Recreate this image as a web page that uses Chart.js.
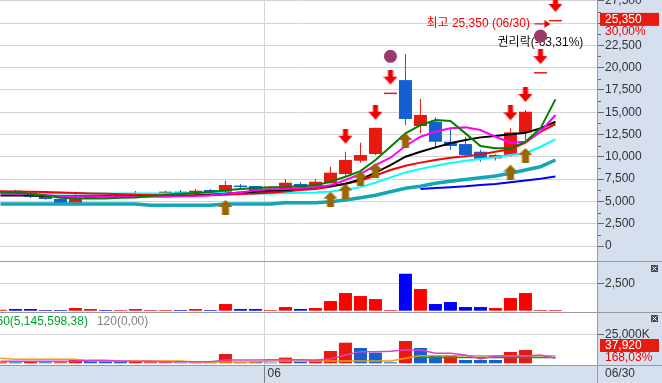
<!DOCTYPE html>
<html><head><meta charset="utf-8">
<script src="https://cdn.jsdelivr.net/npm/chart.js"></script>
<style>
html,body{margin:0;padding:0;background:#fff;}
#wrap{position:relative;width:662px;height:383px;overflow:hidden;background:#fff;}
.abs{position:absolute;}
#rp{left:598px;top:0;width:64px;height:383px;background:#d5dfee;}
#strip{left:0;top:365px;width:662px;height:18px;background:#d5dfee;}
.hl{left:0;width:662px;height:1px;background:#9a9a9a;}
#vl{left:597px;top:0;width:1px;height:383px;background:#9a9a9a;}
canvas{position:absolute;left:0;}
</style></head><body>
<div id="wrap">
 <div id="rp" class="abs"></div>
 <div id="strip" class="abs"></div>
 <canvas id="c1" width="662" height="261" style="top:0;width:662px;height:261px"></canvas>
 <canvas id="c2" width="662" height="50" style="top:262px;width:662px;height:50px"></canvas>
 <canvas id="c3" width="662" height="70" style="top:313px;width:662px;height:70px"></canvas>
 <div class="abs hl" style="top:261px"></div>
 <div class="abs hl" style="top:312px"></div>
 <div class="abs hl" style="top:365px"></div>
 <div id="vl" class="abs"></div>
</div>
<script>
// ================= DATA =================
const monthLabels = ['06'];
const monthStartIdx = [18];
const lastDate = '06/30';

const open  = [5980,6200,6020,5600,5270,4850,5350,5650,5600,5530,5640,5830,6090,5830,6280,6090,6730,6730,6470,6200,6950,6730,7030,8070,9560,10310,17200,18600,13450,13930,11690,11430,10570,9830,10200,12740,19500,25350];
const close = [6200,5830,5530,5270,4740,5350,5600,5520,5830,5830,5830,6090,5720,6200,5975,6840,6610,6200,6580,7100,6610,7210,8220,9640,10200,13250,17200,14240,14690,11690,11210,10200,9790,10200,12740,15050,19500,25350];
const high  = [6250,6310,6050,5720,5300,5900,5750,5720,5850,6160,5900,6200,6280,6390,6390,7320,6950,6730,6600,7510,7170,7510,8890,10570,11580,13260,17200,21520,16480,14430,13300,12250,10800,10300,13190,15250,19500,25350];
const low   = [5950,5750,5380,5190,4700,4740,5300,5350,5550,5500,5600,5640,5700,5720,5950,6050,6500,6150,6450,6200,6550,6700,7000,7900,9340,10200,17200,13560,12630,11130,10760,9940,9450,9600,10010,11880,19500,25350];

const maGreen   = [6050,6000,5850,5650,5400,5330,5330,5330,5400,5450,5600,5750,5850,5950,6050,6250,6400,6500,6580,6620,6730,6800,7210,7770,8400,9640,11130,12630,13560,14120,14010,12630,11210,10950,10950,11690,13190,16440];
const maMagenta = [5900,5850,5800,5700,5600,5550,5550,5550,5550,5550,5550,5550,5580,5620,5700,5850,6000,6250,6350,6400,6500,6600,6800,7400,8070,9080,9900,11210,12250,12810,13190,13300,13000,12250,11580,11690,12810,14690];
const maBlack   = [5650,5650,5650,5620,5580,5580,5580,5580,5580,5580,5580,5580,5600,5650,5750,5850,6000,6090,6200,6280,6470,6580,6730,6950,7480,8220,9080,10010,10570,11060,11510,11880,12180,12330,12520,12700,13190,13930];
const maRed     = [6100,6100,6080,6050,6000,5950,5900,5850,5800,5750,5700,5660,5660,5680,5700,5750,5820,5900,5980,6100,6280,6400,6650,7000,7320,7900,8520,9000,9350,9650,9900,10050,10250,10570,10840,11580,12810,13680];
const maCyan    = [5900,5900,5900,5900,5900,5900,5900,5900,5900,5900,5900,5900,5920,5950,5970,5950,5920,5900,5900,5920,5970,6000,6100,6300,6600,7100,7700,8250,8650,9000,9300,9550,9750,9950,10200,10400,11130,11960];
const maTeal    = [4710,4710,4710,4710,4710,4710,4710,4710,4710,4710,4560,4560,4560,4560,4560,4710,4710,4710,4710,4850,4850,4850,4950,5150,5400,5700,6090,6470,6700,7030,7250,7450,7650,7850,8150,8520,8890,9640];
const maBlue    = [null,null,null,null,null,null,null,null,null,null,null,null,null,null,null,null,null,null,null,null,null,null,null,null,null,null,null,null,6400,6500,6600,6700,6850,6950,7150,7350,7550,7800];

const downIdx = [23,25,26,34,35,36,37];
const upIdx   = [15,22,23,24,25,27,34,35];
const dotIdx  = [26,36];
const dotVal  = [21270,23540];

const vol2 = [90,156,156,62,62,250,156,62,62,156,62,62,62,156,62,624,156,156,62,343,156,250,905,1654,1373,1092,62,3463,2028,624,811,343,343,250,1186,1654,62,62];

const vol3    = [880,880,2060,880,880,3530,2060,2060,1470,1470,880,880,590,590,590,8230,880,1470,590,5000,1470,2940,10900,18200,13500,9400,880,19700,13500,7350,6470,2940,2940,2940,10000,11760,30,38];
const vol3Up  = [1,0,1,0,1,1,0,0,0,1,1,1,0,1,0,1,0,0,0,1,0,1,1,1,0,0,0,1,0,0,1,0,0,0,1,1,0,1];
const vol3Pink   = [1760,1760,1760,1760,1760,2000,2650,2650,2060,1760,1760,1470,1470,1470,1470,2940,2940,2940,3230,3230,3230,2940,3800,7350,10300,10300,10600,11760,11760,8800,8800,7350,3820,6470,6470,6470,7350,4400];
const vol3Orange = [4400,3530,3530,3530,3530,3530,2060,2060,2060,2060,2060,2060,2060,1200,1200,1200,1200,1200,2060,2060,2060,2060,2060,2060,2060,2060,2060,4400,6760,6760,6760,6760,6760,6760,6760,6760,6760,6760];
const vol3Green  = [null,null,null,null,null,null,null,null,null,null,null,null,null,null,null,null,null,null,null,null,null,null,null,null,null,null,null,null,5100,5100,5100,5100,5100,5100,5100,5120,5130,5146];

const mainTicks = [0,2500,5000,7500,10000,12500,15000,17500,20000,22500,25000,27500];
const volTicks  = [2500];
const valTicks  = [25000];

const highText   = '최고';
const exRightText = '권리락(-63,31%)';
const lastChange = '30,00%';
const lastVolText = '37,920';
const volRatioText = '168,03%';
const ma60Label  = '60(5,145,598,38)';
const ma120Label = '120(0,00)';

// ================= STYLE =================
const FONT = "'Liberation Sans','Noto Sans CJK KR',sans-serif";
Chart.defaults.font.family = FONT;
Chart.defaults.font.size = 12;
Chart.defaults.color = '#333';
const PANEL_BG = '#d5dfee';
const C_UP = '#e8190f', C_DN = '#1560d0';
const X_MIN = -0.03, X_MAX = 39.77;
const BODY_W = 13;

const fmt = v => String(Math.round(v)).replace(/\B(?=(\d{3})+(?!\d))/g, ',');

function yOpts(min, max, ticks, cb){
  return {
    position:'right', min, max,
    afterFit(s){ s.width = 65; s.paddingTop = 0; s.paddingBottom = 0; },
    afterBuildTicks(s){ s.ticks = ticks.map(v => ({value:v})); },
    ticks:{autoSkip:false, padding:1, color:'#333', font:{size:12, family:FONT}, callback:cb},
    grid:{color:'#d4d4d4', lineWidth:1, tickLength:7, tickColor:'#666', drawTicks:true},
    border:{display:false}
  };
}
const xOpts = () => ({type:'linear', min:X_MIN, max:X_MAX, display:false, offset:false});

function lineDs(arr, color, w, order){
  return {type:'line', data: arr.map((v,i) => v == null ? null : {x:i, y:v}).filter(Boolean),
    borderColor:color, borderWidth:w, pointRadius:0, fill:false, tension:0, order};
}

function makeDownArrow(color, gap){
  const w = 14, ah = 15, h = 2*(gap+ah);
  const c = document.createElement('canvas'); c.width = w; c.height = h;
  const g = c.getContext('2d'); g.fillStyle = color;
  g.fillRect(4.5, 0, 5, 7);
  g.beginPath(); g.moveTo(0,7); g.lineTo(14,7); g.lineTo(7,15); g.closePath(); g.fill();
  return c;
}
function makeUpArrow(color, gap){
  const w = 14, ah = 15, h = 2*(gap+ah);
  const c = document.createElement('canvas'); c.width = w; c.height = h;
  const g = c.getContext('2d'); g.fillStyle = color;
  const top = h/2 + gap;
  g.beginPath(); g.moveTo(7, top); g.lineTo(14, top+7); g.lineTo(0, top+7); g.closePath(); g.fill();
  g.fillRect(3.5, top+7, 7, 8);
  return c;
}
const downImg = makeDownArrow('#f00000', 8);
const upImg = makeUpArrow('#9a6600', 8);

function monthLine(ch){
  const {ctx, chartArea:a, scales:{x}} = ch;
  ctx.save(); ctx.strokeStyle = '#d4d4d4'; ctx.lineWidth = 1;
  monthStartIdx.forEach(m => {
    const px = Math.round(x.getPixelForValue(m) - BODY_W/2) + 0.5;
    ctx.beginPath(); ctx.moveTo(px, a.top); ctx.lineTo(px, a.bottom); ctx.stroke();
  });
  ctx.restore();
}
function closeBtn(ctx, x0, y0){
  ctx.save(); ctx.fillStyle = '#4d4d4d'; ctx.fillRect(x0, y0, 7, 7);
  ctx.strokeStyle = '#fff'; ctx.lineWidth = 1;
  ctx.beginPath(); ctx.moveTo(x0+1.5, y0+1.5); ctx.lineTo(x0+5.5, y0+5.5);
  ctx.moveTo(x0+5.5, y0+1.5); ctx.lineTo(x0+1.5, y0+5.5); ctx.stroke(); ctx.restore();
}

const candleCol = i => close[i] >= open[i] ? C_UP : C_DN;
const maxIdx = high.indexOf(Math.max(...high));
const lastIdx = close.length - 1;
const baseOpts = (yAxis, pad) => ({
  responsive:false, maintainAspectRatio:false, animation:false, devicePixelRatio:1, events:[],
  plugins:{legend:{display:false}, tooltip:{enabled:false}},
  layout:{autoPadding:false, padding:pad || 0},
  scales:{x:xOpts(), y:yAxis}
});

// ================= CHART 1 =================
const deco1 = {
  id:'deco1',
  beforeDatasetsDraw(ch){
    monthLine(ch);
    const {ctx, scales:{x,y}} = ch;
    ctx.save();
    ctx.font = '12px ' + FONT; ctx.fillStyle = '#111'; ctx.textAlign = 'center'; ctx.textBaseline = 'middle';
    ctx.fillText(exRightText, x.getPixelForValue(dotIdx[1]), y.getPixelForValue(dotVal[1]) + 7);
    ctx.restore();
  },
  afterDatasetsDraw(ch){
    const {ctx, scales:{x,y}} = ch;
    const px = x.getPixelForValue(maxIdx), py = y.getPixelForValue(high[maxIdx]) + 4;
    ctx.save();
    ctx.font = '12px ' + FONT; ctx.fillStyle = '#f00000'; ctx.textAlign = 'right'; ctx.textBaseline = 'middle';
    ctx.fillText(highText + ' ' + fmt(high[maxIdx]) + ' (' + lastDate + ')', px - 25.5, py);
    ctx.strokeStyle = '#f00000'; ctx.lineWidth = 1.2;
    ctx.beginPath(); ctx.moveTo(px - 21, py); ctx.lineTo(px - 9, py); ctx.stroke();
    ctx.beginPath(); ctx.moveTo(px - 11, py - 4); ctx.lineTo(px - 5, py); ctx.lineTo(px - 11, py + 4); ctx.closePath(); ctx.fill();
    ctx.restore();
  },
  afterDraw(ch){
    const {ctx, chartArea:a, scales:{y}} = ch;
    ctx.save();
    ctx.strokeStyle = '#666'; ctx.lineWidth = 1;
    for (let i = 0; i < mainTicks.length - 1; i++){
      const v = (mainTicks[i] + mainTicks[i+1]) / 2;
      const py = Math.round(y.getPixelForValue(v)) + 0.5;
      ctx.beginPath(); ctx.moveTo(a.right, py); ctx.lineTo(a.right + 4, py); ctx.stroke();
    }
    const py = y.getPixelForValue(close[lastIdx]);
    ctx.fillStyle = PANEL_BG; ctx.fillRect(605, py - 7, 57, 24);
    ctx.fillStyle = '#e61c12'; ctx.fillRect(600, py - 7, 59, 13);
    ctx.font = '12px ' + FONT; ctx.textAlign = 'left'; ctx.textBaseline = 'middle';
    ctx.fillStyle = '#fff'; ctx.fillText(fmt(close[lastIdx]), 605, py - 0.5);
    ctx.fillStyle = '#f00000'; ctx.fillText(lastChange, 605, py + 11.5);
    ctx.restore();
  }
};

new Chart(document.getElementById('c1'), {
  type:'bar',
  data:{datasets:[
    {type:'line', data: dotIdx.map((d,k) => ({x:d, y:dotVal[k]})), showLine:false, pointRadius:6.5, pointStyle:'circle',
      pointBackgroundColor:'#9a3a6a', pointBorderWidth:0, pointBorderColor:'#9a3a6a', order:0},
    {type:'line', data: downIdx.map(d => ({x:d, y:high[d]})), showLine:false, pointRadius:7, pointStyle:downImg, order:1},
    {type:'line', data: upIdx.map(d => ({x:d, y:low[d]})), showLine:false, pointRadius:7, pointStyle:upImg, order:2},
    lineDs(maGreen, '#008000', 2, 3),
    lineDs(maMagenta, '#ff00ff', 2, 4),
    lineDs(maBlack, '#000000', 2, 5),
    lineDs(maRed, '#ff0000', 2, 6),
    lineDs(maCyan, '#00ffff', 2, 7),
    lineDs(maBlue, '#0000ff', 2, 8),
    lineDs(maTeal, '#12a6b6', 3.5, 9),
    {type:'bar', data: open.map((o,i) => ({x:i, y:[o, close[i]]})), backgroundColor: open.map((o,i) => candleCol(i)),
      barThickness:BODY_W, grouped:false, minBarLength:1.5, borderWidth:0, inflateAmount:0, order:10},
    {type:'bar', data: low.map((l,i) => ({x:i, y:[l, high[i]]})), backgroundColor: low.map((l,i) => candleCol(i)),
      barThickness:1, grouped:false, borderWidth:0, inflateAmount:0, order:11}
  ]},
  options: baseOpts(yOpts(-1680, 27580, mainTicks, v => fmt(v))),
  plugins:[deco1]
});

// ================= CHART 2 =================
const deco2 = {
  id:'deco2',
  beforeDatasetsDraw(ch){ monthLine(ch); },
  afterDraw(ch){ closeBtn(ch.ctx, 651, 3); }
};
new Chart(document.getElementById('c2'), {
  type:'bar',
  data:{datasets:[
    {data: vol2.map((v,i) => ({x:i, y:v})), backgroundColor: vol2.map((v,i) => close[i] >= open[i] ? '#ff0000' : '#0000ff'),
      barThickness:BODY_W, grouped:false, borderWidth:0, inflateAmount:0}
  ]},
  options: baseOpts(yOpts(-122, 4560, volTicks, v => fmt(v))),
  plugins:[deco2]
});

// ================= CHART 3 =================
const deco3 = {
  id:'deco3',
  beforeDatasetsDraw(ch){ monthLine(ch); },
  afterDraw(ch){
    const {ctx, chartArea:a, scales:{x}} = ch;
    ctx.save();
    ctx.font = '12px ' + FONT; ctx.textBaseline = 'middle'; ctx.textAlign = 'left';
    ctx.fillStyle = '#00a030'; ctx.fillText(ma60Label, -3.5, 8.5);
    const w1 = ctx.measureText(ma60Label).width;
    ctx.fillStyle = '#808080'; ctx.fillText(ma120Label, -3.5 + w1 + 9, 8.5);
    ctx.fillStyle = '#e61c12'; ctx.fillRect(600, 26, 59, 13);
    ctx.fillStyle = '#fff'; ctx.fillText(lastVolText, 605, 32.5);
    ctx.fillStyle = '#f00000'; ctx.fillText(volRatioText, 605, 45);
    ctx.strokeStyle = '#808080'; ctx.lineWidth = 1;
    monthStartIdx.forEach((m,k) => {
      const px = Math.round(x.getPixelForValue(m) - BODY_W/2) + 0.5;
      ctx.beginPath(); ctx.moveTo(px, a.bottom); ctx.lineTo(px, 70); ctx.stroke();
      ctx.fillStyle = '#333'; ctx.fillText(monthLabels[k], px + 3, 60.5);
    });
    ctx.fillStyle = '#333'; ctx.fillText(lastDate, 605, 60.5);
    ctx.restore();
    closeBtn(ctx, 651, 2);
  }
};
new Chart(document.getElementById('c3'), {
  type:'bar',
  data:{datasets:[
    lineDs(vol3Pink, '#e040c8', 1.5, 0),
    lineDs(vol3Green, '#109a20', 1.5, 1),
    lineDs(vol3Orange, '#f0a000', 1.5, 2),
    {type:'bar', data: vol3.map((v,i) => ({x:i, y:v})), backgroundColor: vol3Up.map(u => u ? C_UP : C_DN),
      barThickness:BODY_W, grouped:false, borderWidth:0, inflateAmount:0, order:5}
  ]},
  options: baseOpts(yOpts(-1500, 44430, valTicks, v => fmt(v) + 'K'), {left:0, right:0, top:0, bottom:18}),
  plugins:[deco3]
});
</script>
</body></html>
